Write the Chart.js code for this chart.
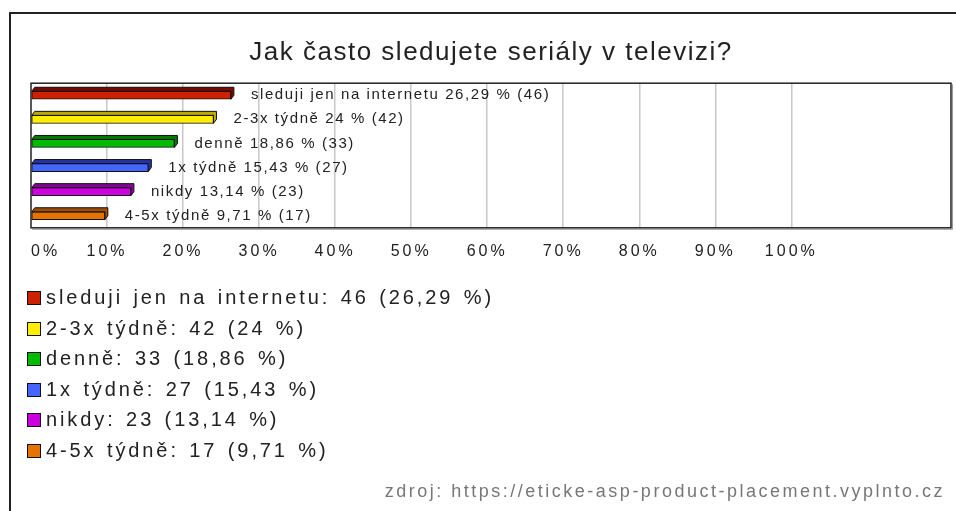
<!DOCTYPE html>
<html>
<head>
<meta charset="utf-8">
<script src="https://cdn.jsdelivr.net/npm/chart.js@4/dist/chart.umd.min.js"></script>
<style>
  body { margin: 0; background: #fff; font-family: "Liberation Sans", Arial, sans-serif; }
  #wrap { position: relative; width: 956px; height: 511px; overflow: hidden; }
  #frame { position: absolute; left: 9px; top: 12px; width: 950px; height: 510px;
           border-left: 2px solid #222; border-top: 2px solid #222; }
  #barplot { position: absolute; left: 0; top: 0; }
  #legend { position: absolute; left: 27px; top: 282px; font-size: 20px; color: #222;
            letter-spacing: 2.9px; word-spacing: 2px; }
  #legend div { height: 30.6px; line-height: 30.6px; white-space: nowrap; }
  #legend .box { display: inline-block; width: 12px; height: 12px; border: 1.5px solid #111;
                 margin-right: 5px; vertical-align: -1px; }
  #source { position: absolute; right: 11px; top: 481px; font-size: 18px; color: #777;
            letter-spacing: 2.5px; white-space: nowrap; }
</style>
</head>
<body>
<div id="wrap">
  <div id="frame"></div>
  <canvas id="barplot" width="956" height="511"></canvas>
  <div id="legend"></div>
  <div id="source">zdroj: https://eticke-asp-product-placement.vyplnto.cz</div>
</div>
<script>
var categories = ['sleduji jen na internetu', '2-3x týdně', 'denně', '1x týdně', 'nikdy', '4-5x týdně'];
var counts = [46, 42, 33, 27, 23, 17];
var percents = [26.29, 24, 18.86, 15.43, 13.14, 9.71];
var barColors = ['#cc2200', '#ffee00', '#00bb00', '#4466ff', '#cc00dd', '#e67300'];
var sideColors = ['#7a0a00', '#c0aa00', '#007a00', '#2233aa', '#880099', '#a04c00'];

function fmt(v) { return String(v).replace('.', ','); }

// plot frame drawn around the chart area
var framePlugin = {
  id: 'frame',
  beforeDatasetsDraw: function(chart) {
    var a = chart.chartArea, ctx = chart.ctx;
    ctx.save();
    ctx.strokeStyle = '#999';
    ctx.lineWidth = 1;
    ctx.beginPath();
    ctx.moveTo(a.right + 1.5, a.top + 1);
    ctx.lineTo(a.right + 1.5, a.bottom + 1.5);
    ctx.lineTo(a.left + 1, a.bottom + 1.5);
    ctx.stroke();
    ctx.strokeStyle = '#222';
    ctx.lineWidth = 1.5;
    ctx.strokeRect(a.left, a.top, a.right - a.left, a.bottom - a.top);
    ctx.restore();
  }
};

// fake 3d top/side faces of the bars
var depthPlugin = {
  id: 'depth',
  afterDatasetsDraw: function(chart) {
    var ctx = chart.ctx, meta = chart.getDatasetMeta(0);
    var dx = 3, dy = 4;
    ctx.save();
    ctx.lineWidth = 1;
    ctx.strokeStyle = '#111';
    meta.data.forEach(function(bar, i) {
      var top = bar.y - bar.height / 2, bot = bar.y + bar.height / 2;
      var l = bar.base, r = bar.x;
      ctx.beginPath();
      ctx.moveTo(l, top);
      ctx.lineTo(l + dx, top - dy);
      ctx.lineTo(r + dx, top - dy);
      ctx.lineTo(r + dx, bot - dy);
      ctx.lineTo(r, bot);
      ctx.lineTo(r, top);
      ctx.closePath();
      ctx.fillStyle = sideColors[i];
      ctx.fill();
      ctx.stroke();
    });
    ctx.restore();
  }
};

var labelPlugin = {
  id: 'barLabels',
  afterDatasetsDraw: function(chart) {
    var ctx = chart.ctx, meta = chart.getDatasetMeta(0);
    ctx.save();
    ctx.font = '15px "Liberation Sans"';
    ctx.letterSpacing = '1.6px';
    ctx.fillStyle = '#222';
    ctx.textBaseline = 'middle';
    ctx.textAlign = 'left';
    meta.data.forEach(function(bar, i) {
      var txt = categories[i] + ' ' + fmt(percents[i]) + ' % (' + counts[i] + ')';
      ctx.fillText(txt, bar.x + 20, bar.y);
    });
    ctx.restore();
  }
};

// wider letter spacing for tick labels, a bit less for the title
var spacingPlugin = {
  id: 'spacing',
  beforeUpdate: function(chart) { chart.ctx.letterSpacing = '3px'; },
  beforeDraw: function(chart) {
    chart.ctx.letterSpacing = '3px';
    var t = chart.titleBlock;
    if (t && !t._patched) {
      var orig = t.draw;
      t.draw = function() {
        var c = chart.ctx;
        c.save();
        c.letterSpacing = '1.5px';
        orig.apply(this, arguments);
        c.restore();
      };
      t._patched = true;
    }
  }
};

new Chart('barplot', {
  type: 'bar',
  data: {
    labels: categories,
    datasets: [{
      data: percents,
      backgroundColor: barColors,
      borderColor: '#111',
      borderWidth: 1,
      borderSkipped: false,
      barThickness: 8
    }]
  },
  options: {
    indexAxis: 'y',
    responsive: false,
    animation: false,
    layout: { padding: { left: 31, right: 5, top: 0, bottom: 236 } },
    plugins: {
      legend: { display: false },
      tooltip: { enabled: false },
      title: {
        display: true,
        text: 'Jak často sledujete seriály v televizi?',
        color: '#222',
        font: { family: 'Liberation Sans', size: 26, weight: 'normal' },
        padding: { top: 37, bottom: 15 }
      }
    },
    scales: {
      x: {
        min: 0,
        max: 121,
        border: { display: false },
        afterFit: function(s) { s.paddingLeft = 0; s.paddingRight = 0; },
        grid: {
          drawTicks: false,
          lineWidth: 1.5,
          color: function(c) {
            var v = c.tick ? c.tick.value : 0;
            return (v > 0 && v <= 100) ? '#c8c8c8' : 'rgba(0,0,0,0)';
          }
        },
        ticks: {
          stepSize: 10,
          padding: 14,
          align: 'inner',
          maxRotation: 0,
          autoSkip: false,
          color: '#222',
          font: { family: 'Liberation Sans', size: 16 },
          callback: function(v) { return v <= 100 ? v + '%' : ''; }
        }
      },
      y: { display: false, grid: { display: false } }
    }
  },
  plugins: [spacingPlugin, framePlugin, depthPlugin, labelPlugin]
});

var legend = document.getElementById('legend');
categories.forEach(function(c, i) {
  var row = document.createElement('div');
  var box = document.createElement('span');
  box.className = 'box';
  box.style.background = barColors[i];
  row.appendChild(box);
  row.appendChild(document.createTextNode(c + ': ' + counts[i] + ' (' + fmt(percents[i]) + ' %)'));
  legend.appendChild(row);
});
</script>
</body>
</html>
